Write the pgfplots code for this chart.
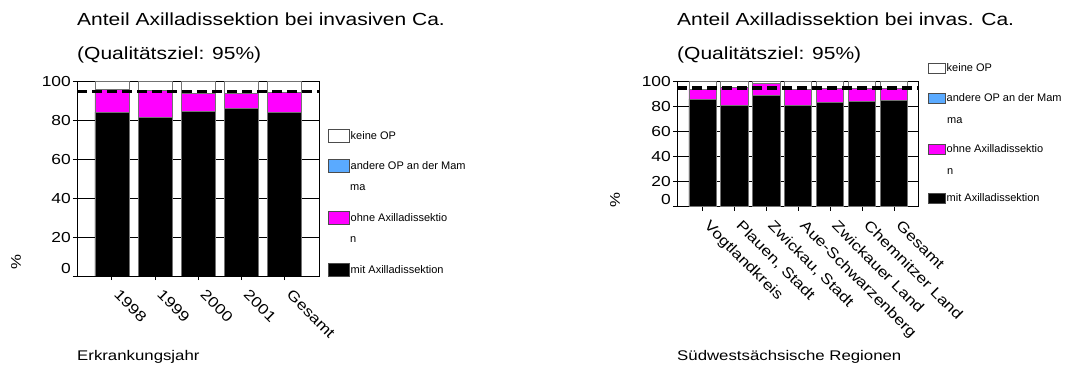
\documentclass[border=0pt]{standalone}
\usepackage{pgfplots}
\pgfplotsset{compat=1.18}
\usepackage{pgfplotstable}
\usepackage{fontspec}
\setmainfont{Liberation Sans}[FakeStretch=1.2]
\newfontfamily\legfont{Liberation Sans}

\definecolor{opblue}{RGB}{90,170,255}
\definecolor{ohnecol}{RGB}{255,0,255}

% Anteile in Prozent je Erkrankungsjahr
\pgfplotstableread{
x mit  ohne andere keine
0 84.3 11.6 0 4.1
1 81.7 13.7 0 4.6
2 84.8  9.2 0 6.0
3 86.3  7.7 0 6.0
4 84.3 10.2 0 5.5
}\jahre

% Anteile in Prozent je Region
\pgfplotstableread{
x mit  ohne andere keine
0 86.2  8.0 0 5.8
1 81.4 14.1 0 4.5
2 89.4  9.3 0 1.3
3 81.4 12.8 0 5.8
4 83.2 11.5 0 5.3
5 84.0 10.7 0 5.3
6 84.8  9.9 0 5.3
}\regionen

\pgfplotsset{
  qsstyle/.style={
    scale only axis,
    ybar stacked,
    reverse stacked plots=false,
    ymin=0, ymax=100,
    ytick={20,40,60,80,100},
    extra y ticks={0},
    extra y tick style={yticklabel style={yshift=7bp}},
    ymajorgrids,
    grid style={black, line width=0.8bp},
    axis line style={black, line width=1bp},
    tick style={black, line width=1bp},
    tick align=outside,
    major tick length=4bp,
    xtick=data,
    xtick pos=lower, ytick pos=left,
    ticklabel style={font=\fontsize{14.5bp}{16bp}\selectfont},
    /pgf/number format/assume math mode=true,
    xticklabel style={rotate=-45, anchor=north west, inner sep=1bp, xshift=11bp, yshift=1bp},
    yticklabel style={inner sep=2bp},
    every axis plot/.append style={draw=black!55, line width=0.8bp},
  },
  ziel/.style={stack plots=false, sharp plot, draw=black, line width=3.3bp,
    dash pattern=on 10bp off 5bp, forget plot},
}

\newcommand{\legrow}[6]{% x, ycenter, width, height, colour, text
  \filldraw[fill=#5, draw=black!70, line width=0.8bp]
    (#1bp,#2bp-#4bp/2) rectangle (#1bp+#3bp,#2bp+#4bp/2);
  \node[anchor=west, inner sep=0pt, font=\legfont\fontsize{11bp}{13bp}\selectfont]
    at (#1bp+#3bp+1.5bp,#2bp) {#6};}
\newcommand{\legcont}[3]{% x, ycenter, text
  \node[anchor=west, inner sep=0pt, font=\legfont\fontsize{11bp}{13bp}\selectfont]
    at (#1bp,#2bp) {#3};}

\begin{document}
\begin{tikzpicture}
\useasboundingbox (0,0) rectangle (1066bp,365bp);

% ---------- linkes Diagramm: Erkrankungsjahr ----------
\begin{axis}[qsstyle,
  at={(77bp,89bp)}, anchor=south west,
  width=243bp, height=194.3bp,
  xmin=-0.81, xmax=4.82, bar width=0.79,
  xticklabels={1998,1999,2000,2001,Gesamt}]
\addplot[fill=black]     table[x=x,y=mit]    {\jahre};
\addplot[fill=ohnecol]   table[x=x,y=ohne]   {\jahre};
\addplot[fill=opblue]    table[x=x,y=andere] {\jahre};
\addplot[fill=white]     table[x=x,y=keine]  {\jahre};
\addplot[ziel] coordinates {(-0.81,95) (4.82,95)};
\end{axis}

\node[anchor=base west, inner sep=0pt, font=\fontsize{17.5bp}{20bp}\selectfont]
  at (77bp,339bp) {Anteil Axilladissektion bei invasiven Ca.};
\node[anchor=base west, inner sep=0pt, font=\fontsize{17.5bp}{20bp}\selectfont]
  at (77bp,305bp) {(Qualitätsziel: 95\%)};
\node[rotate=90, inner sep=0pt, font=\fontsize{14bp}{16bp}\selectfont]
  at (16bp,103bp) {\%};
\node[anchor=base west, inner sep=0pt, font=\fontsize{14bp}{16bp}\selectfont]
  at (77bp,5bp) {Erkrankungsjahr};

\legrow{328}{229.5}{21}{13}{white}{keine OP}
\legrow{328}{199}{21}{13}{opblue}{andere OP an der Mam}
\legcont{350}{177}{ma}
\legrow{328}{147}{21}{13}{ohnecol}{ohne Axilladissektio}
\legcont{350}{125}{n}
\legrow{328}{95}{21}{13}{black}{mit Axilladissektion}

% ---------- rechtes Diagramm: Regionen ----------
\begin{axis}[qsstyle,
  at={(677bp,158.3bp)}, anchor=south west,
  width=241bp, height=125bp,
  xmin=-0.8, xmax=6.75, bar width=0.85,
  xticklabels={Vogtlandkreis,{Plauen, Stadt},{Zwickau, Stadt},Aue-Schwarzenberg,Zwickauer Land,Chemnitzer Land,Gesamt}]
\addplot[fill=black]     table[x=x,y=mit]    {\regionen};
\addplot[fill=ohnecol]   table[x=x,y=ohne]   {\regionen};
\addplot[fill=opblue]    table[x=x,y=andere] {\regionen};
\addplot[fill=white]     table[x=x,y=keine]  {\regionen};
\addplot[ziel] coordinates {(-0.8,95) (6.75,95)};
\end{axis}

\node[anchor=base west, inner sep=0pt, font=\fontsize{17.5bp}{20bp}\selectfont]
  at (677bp,339bp) {Anteil Axilladissektion bei invas. Ca.};
\node[anchor=base west, inner sep=0pt, font=\fontsize{17.5bp}{20bp}\selectfont]
  at (677bp,305bp) {(Qualitätsziel: 95\%)};
\node[rotate=90, inner sep=0pt, font=\fontsize{14bp}{16bp}\selectfont]
  at (615bp,165bp) {\%};
\node[anchor=base west, inner sep=0pt, font=\fontsize{14bp}{16bp}\selectfont]
  at (677bp,5bp) {Südwestsächsische Regionen};

\legrow{928}{297}{17}{10}{white}{keine OP}
\legrow{928}{267}{17}{10}{opblue}{andere OP an der Mam}
\legcont{947}{244}{ma}
\legrow{928}{216}{17}{10}{ohnecol}{ohne Axilladissektio}
\legcont{947}{193}{n}
\legrow{928}{167}{17}{10}{black}{mit Axilladissektion}
\end{tikzpicture}
\end{document}
